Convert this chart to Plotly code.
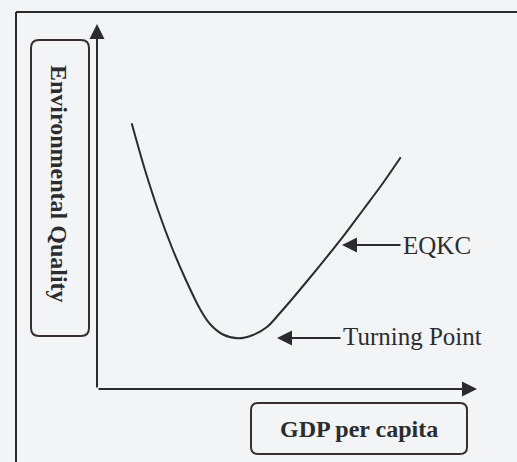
import plotly.graph_objects as go

# Environmental Quality Kuznets Curve (schematic), origin at axis corner
gdp = [34.7, 48, 61.3, 74.7, 88, 103, 113, 126, 141, 156, 170, 183, 196, 211, 233, 246, 266, 286, 303.7]
env_quality = [265.7, 219, 178, 142, 111, 80, 65, 54.5, 50.7, 54, 62, 76, 91, 109, 136, 152.3, 179, 206, 231.7]

x_axis_label = "GDP per capita"
y_axis_label = "Environmental Quality"
curve_label = "EQKC"
turning_label = "Turning Point"

INK = "#2c2c2e"
BOX = "#3a2f2f"
BG = "#f3f4f6"
FONT = "Liberation Serif, Times New Roman, serif"


def rrect(x0, y0, x1, y1, r):
    return (f"M{x0+r},{y0} L{x1-r},{y0} Q{x1},{y0} {x1},{y0+r} "
            f"L{x1},{y1-r} Q{x1},{y1} {x1-r},{y1} L{x0+r},{y1} "
            f"Q{x0},{y1} {x0},{y1-r} L{x0},{y0+r} Q{x0},{y0} {x0+r},{y0} Z")


fig = go.Figure()
fig.add_trace(go.Scatter(x=gdp, y=env_quality, mode="lines",
                         line=dict(color=INK, width=2, shape="spline", smoothing=1.0),
                         hoverinfo="skip", showlegend=False))

shapes = [
    # outer frame
    dict(type="line", x0=-81, y0=-80, x1=-81, y1=377, line=dict(color=INK, width=2)),
    dict(type="line", x0=-81, y0=377, x1=430, y1=377, line=dict(color=INK, width=2)),
    # label boxes
    dict(type="path", path=rrect(-66, 53, -8, 349, 8), line=dict(color=BOX, width=2)),
    dict(type="path", path=rrect(154, -65, 370, -14, 7), line=dict(color=BOX, width=2)),
]

annotations = [
    # axes with arrowheads
    dict(x=0, y=365, ax=0, ay=0, xref="x", yref="y", axref="x", ayref="y", text="",
         showarrow=True, arrowhead=2, arrowwidth=2, arrowsize=1.5, arrowcolor=INK),
    dict(x=380, y=0, ax=0, ay=0, xref="x", yref="y", axref="x", ayref="y", text="",
         showarrow=True, arrowhead=2, arrowwidth=2, arrowsize=1.5, arrowcolor=INK),
    # pointer arrows
    dict(x=245, y=144, ax=305, ay=144, xref="x", yref="y", axref="x", ayref="y", text="",
         showarrow=True, arrowhead=2, arrowwidth=2, arrowsize=1.5, arrowcolor=INK),
    dict(x=180, y=51, ax=245, ay=51, xref="x", yref="y", axref="x", ayref="y", text="",
         showarrow=True, arrowhead=2, arrowwidth=2, arrowsize=1.5, arrowcolor=INK),
    # texts
    dict(x=304, y=144, xref="x", yref="y", text=curve_label, showarrow=False,
         xanchor="left", yanchor="middle", font=dict(family=FONT, size=25, color=INK)),
    dict(x=244, y=53, xref="x", yref="y", text=turning_label, showarrow=False,
         xanchor="left", yanchor="middle", font=dict(family=FONT, size=25, color=INK)),
    dict(x=262, y=-40, xref="x", yref="y", text=f"<b>{x_axis_label}</b>", showarrow=False,
         xanchor="center", yanchor="middle", font=dict(family=FONT, size=24, color=INK)),
    dict(x=-38, y=205, xref="x", yref="y", text=f"<b>{y_axis_label}</b>", showarrow=False,
         textangle=90, xanchor="center", yanchor="middle",
         font=dict(family=FONT, size=24, color=INK)),
]

fig.update_layout(
    width=517, height=462,
    margin=dict(l=0, r=0, t=0, b=0),
    paper_bgcolor=BG, plot_bgcolor=BG,
    xaxis=dict(range=[-97, 420], visible=False, fixedrange=True),
    yaxis=dict(range=[-73, 389], visible=False, fixedrange=True),
    shapes=shapes, annotations=annotations,
    showlegend=False,
)

fig.write_html("out.html",
               post_script=f"document.body.style.margin='0';document.body.style.background='{BG}';",
               config={"displayModeBar": False})
